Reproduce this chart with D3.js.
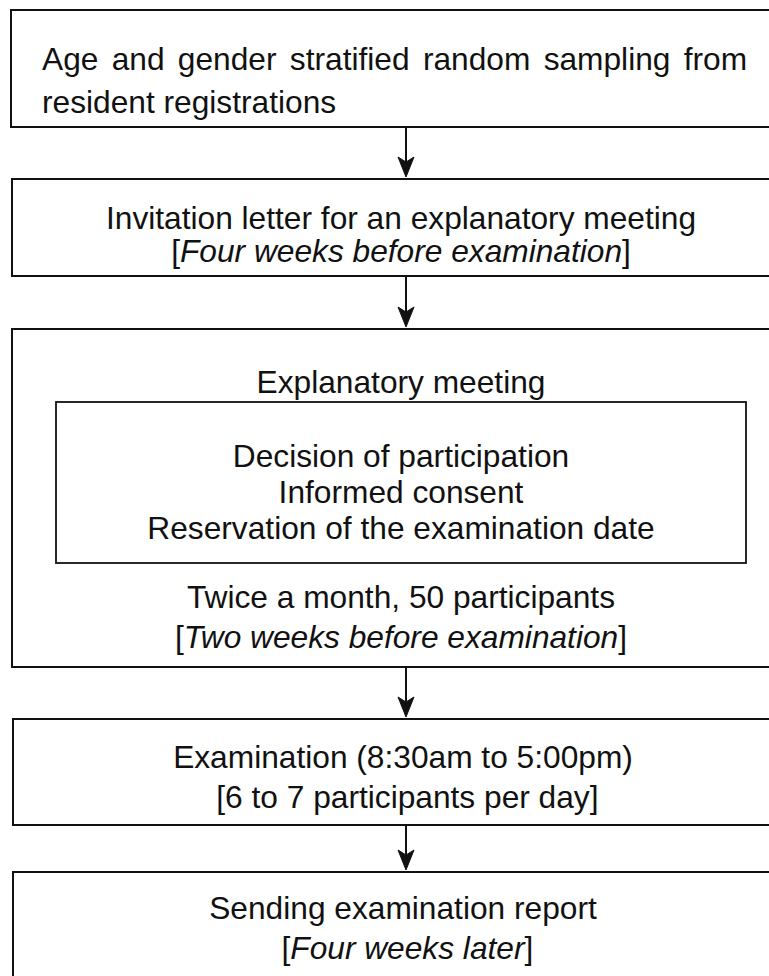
<!DOCTYPE html>
<html>
<head>
<meta charset="utf-8">
<script src="https://cdn.jsdelivr.net/npm/d3@7"></script>
<style>
  html, body { margin: 0; padding: 0; background: #fff; }
  svg { display: block; }
  text { font-family: "Liberation Sans", Arial, Helvetica, sans-serif; fill: #111; }
</style>
</head>
<body>
<script>
// ---- Data (text content only) ----
const step1Lines = ["Age and gender stratified random sampling from", "resident registrations"];
const step2Lines = [
  [{t: "Invitation letter for an explanatory meeting", i: false}],
  [{t: "[", i: false}, {t: "Four weeks before examination", i: true}, {t: "]", i: false}]
];
const step3Header = "Explanatory meeting";
const step3Inner = ["Decision of participation", "Informed consent", "Reservation of the examination date"];
const step3Footer = [
  [{t: "Twice a month, 50 participants", i: false}],
  [{t: "[", i: false}, {t: "Two weeks before examination", i: true}, {t: "]", i: false}]
];
const step4Lines = [
  [{t: "Examination (8:30am to 5:00pm)", i: false}],
  [{t: " [6 to 7 participants per day]", i: false}]
];
const step5Lines = [
  [{t: "Sending examination report", i: false}],
  [{t: " [", i: false}, {t: "Four weeks later", i: true}, {t: "]", i: false}]
];

// ---- Layout ----
const W = 769, H = 976;
const svg = d3.select("body").append("svg").attr("width", W).attr("height", H);
const FS = 31.7;
const stroke = "#111";

// boxes extend past the right edge of the picture
const boxes = [
  {x: 11, y: 10, y2: 127},
  {x: 12, y: 179, y2: 276},
  {x: 12, y: 329, y2: 667},
  {x: 13, y: 719, y2: 825},
  {x: 13, y: 872, y2: 990}
];
svg.selectAll("rect.box").data(boxes).join("rect")
  .attr("class", "box")
  .attr("x", d => d.x).attr("y", d => d.y)
  .attr("width", d => 800 - d.x).attr("height", d => d.y2 - d.y)
  .attr("fill", "none").attr("stroke", stroke).attr("stroke-width", 2);

// inner box of step 3
svg.append("rect").attr("x", 56).attr("y", 402).attr("width", 690).attr("height", 161)
  .attr("fill", "none").attr("stroke", stroke).attr("stroke-width", 1.8);

// arrows
const ax = 406;
const arrowLine = d3.line();
for (let k = 0; k < boxes.length - 1; k++) {
  const y0 = boxes[k].y2, y1 = boxes[k + 1].y;
  svg.append("path").attr("d", arrowLine([[ax, y0], [ax, y1 - 16]]))
    .attr("stroke", stroke).attr("stroke-width", 2).attr("fill", "none");
  svg.append("path").attr("d", arrowLine([[ax - 8, y1 - 22], [ax, y1 - 17], [ax + 8, y1 - 22], [ax, y1 - 2]]) + "Z")
    .attr("fill", stroke).attr("stroke", stroke).attr("stroke-width", 1);
}

// text helpers
function richLine(x, y, parts, anchor) {
  const t = svg.append("text").attr("x", x).attr("y", y)
    .attr("font-size", FS).attr("text-anchor", anchor || "middle")
    .attr("xml:space", "preserve");
  t.selectAll("tspan").data(parts).join("tspan")
    .attr("font-style", d => d.i ? "italic" : "normal")
    .text(d => d.t);
  return t;
}

// step 1 (left aligned, first line justified to the box width)
step1Lines.forEach((s, i) => {
  const t = richLine(42, 70 + i * 43, [{t: s, i: false}], "start");
  if (i === 0) t.attr("word-spacing", 4.5);
});
// step 2
step2Lines.forEach((p, i) => richLine(401, 229 + i * 33, p));
// step 3
richLine(401, 393, [{t: step3Header, i: false}]);
step3Inner.forEach((s, i) => richLine(401, 467 + i * 36, [{t: s, i: false}]));
step3Footer.forEach((p, i) => richLine(401, 608 + i * 40, p));
// step 4
step4Lines.forEach((p, i) => richLine(403, 768 + i * 40, p));
// step 5
step5Lines.forEach((p, i) => richLine(403, 919 + i * 40, p));
</script>
</body>
</html>
